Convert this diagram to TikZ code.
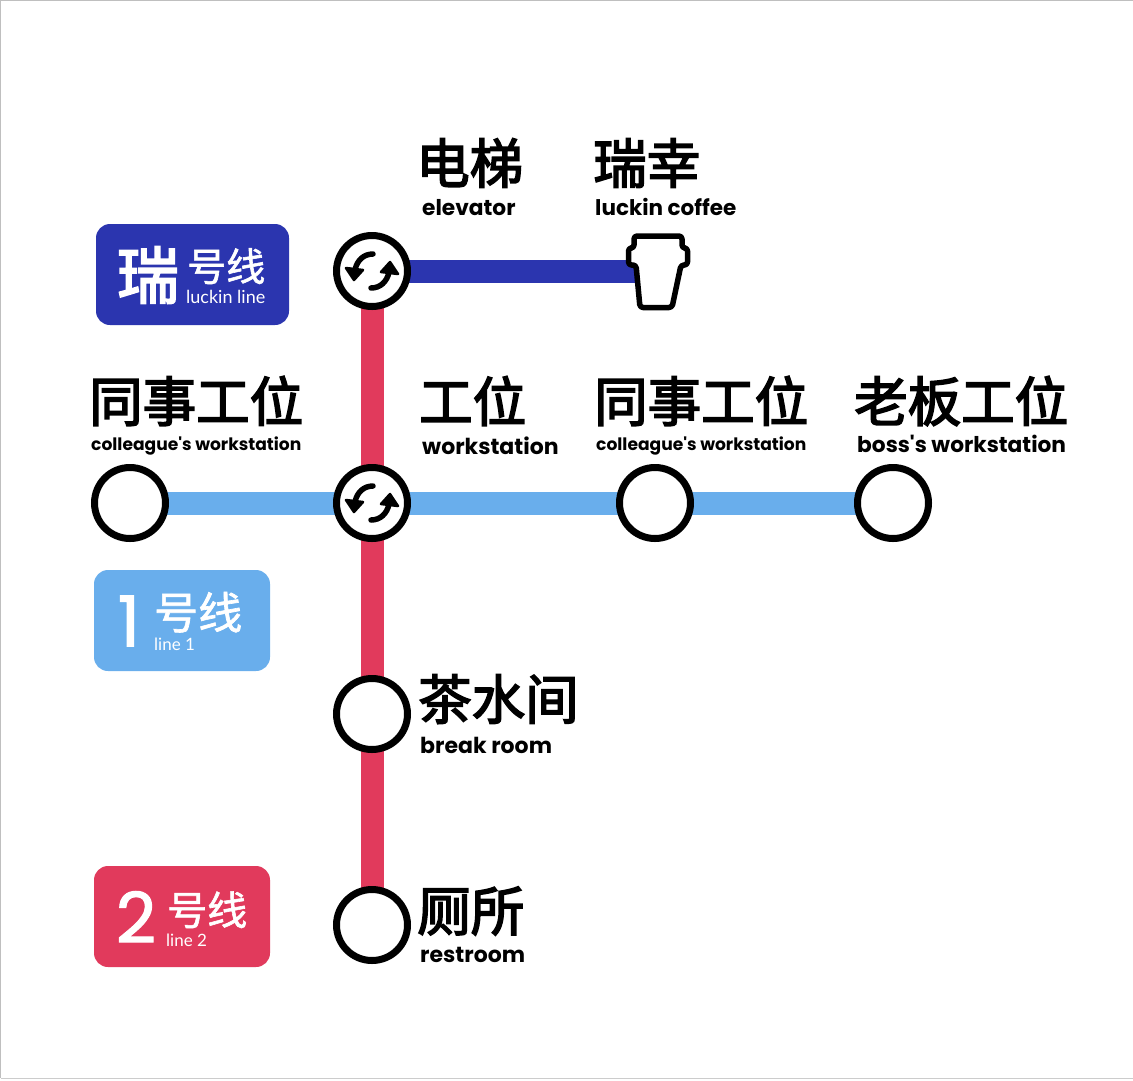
\documentclass[tikz,border=0pt]{standalone}
\usepackage{fontspec}
\usetikzlibrary{backgrounds}
\setmainfont{Poppins}
\newfontfamily\cjkfont[FakeBold=3]{Noto Sans CJK SC}
\newfontfamily\cjkthin[FakeBold=1.5]{Noto Sans CJK SC}
\newfontfamily\numfont[FakeBold=1.5]{Poppins}
\newfontfamily\thinfont{Lato}
\definecolor{luckinblue}{HTML}{2B35AF}
\definecolor{lineoneblue}{HTML}{69AEEC}
\definecolor{linetwored}{HTML}{E13A5C}
\tikzstyle{station}=[circle,
    line width=7pt,
    minimum size=71pt,
    inner sep=0pt,
    draw=black,
    fill=white]
\tikzstyle{cnlabel}=[anchor=west,inner sep=0pt,font=\fontsize{53.5}{54}\cjkfont]
\tikzstyle{enlabel}=[anchor=base west,inner sep=0pt,font=\fontsize{22}{22}\selectfont\bfseries]
\tikzstyle{ensmall}=[anchor=base west,inner sep=0pt,font=\fontsize{17.1}{18}\selectfont\bfseries]
\tikzstyle{badge}=[rounded corners=14pt,draw=none]
\tikzstyle{badgebig}=[inner sep=0pt,text=white,font=\fontsize{62}{62}\cjkfont]
\tikzstyle{badgenum}=[inner sep=0pt,text=white,font=\fontsize{70}{70}\numfont]
\tikzstyle{badgecn}=[anchor=base west,inner sep=0pt,text=white,text height=30pt,text depth=0pt,font=\fontsize{39}{39}\cjkthin]
\tikzstyle{badgeen}=[anchor=west,inner sep=0pt,text=white,font=\fontsize{17}{17}\thinfont]
\tikzstyle{track}=[line width=23pt]
\tikzset{swaparrow/.pic={
    \draw [line width=5.5pt,line cap=round] (1,-17) .. controls (-8,-17) and (-15,-11) .. (-17,-1);
    \fill [draw,line width=2.5pt,line join=round] (-26,-3) -- (-9,-1) -- (-18,9) -- cycle;
}}
\begin{document}
\begin{tikzpicture}[x=1pt,y=-1pt]
    \useasboundingbox (0,0) rectangle (1133,1080);
    \draw [gray!50,line width=1pt] (0.5,1078) -- (0.5,0.5) -- (1132.5,0.5);
    \draw [gray!40,line width=1pt] (0.5,1078) -- (1133,1078);

    % stations
    \node (elevator) [station] at (372,271) {};
    \node (desk) [station] at (372,503) {};
    \node (colleaguea) [station] at (130,503) {};
    \node (colleagueb) [station] at (655,503) {};
    \node (boss) [station] at (893,503) {};
    \node (breakroom) [station] at (372,714) {};
    \node (restroom) [station] at (372,925) {};
    \coordinate (cup) at (645,271);

    % lines
    \begin{scope}[on background layer]
        \draw [track,luckinblue] (elevator.center) -- (cup);
        \draw [track,lineoneblue] (colleaguea.center) -- (desk.center);
        \draw [track,lineoneblue] (desk.center) -- (colleagueb.center);
        \draw [track,lineoneblue] (colleagueb.center) -- (boss.center);
        \draw [track,linetwored] (elevator.center) -- (desk.center);
        \draw [track,linetwored] (desk.center) -- (breakroom.center);
        \draw [track,linetwored] (breakroom.center) -- (restroom.center);
    \end{scope}

    % transfer marks
    \foreach \name in {elevator,desk} {
        \pic at (\name) {swaparrow};
        \pic [rotate=180] at (\name) {swaparrow};
    }

    % coffee cup
    \draw [line width=5.5pt,line join=round,rounded corners=3pt,fill=white]
        (636,265) -- (640,307.5) -- (672,307.5) -- (681,265)
        -- (687.5,265) -- (687.5,248) -- (682,248) -- (682,236) -- (634,236) -- (634,248)
        -- (628.5,248) -- (628.5,265) -- cycle;

    % station labels
    \node (elevatorcn) [cnlabel] at (416,163) {电梯};
    \node (elevatoren) [enlabel,font=\fontsize{21.7}{22}\selectfont\bfseries] at (422,215) {elevator};
    \node (coffeecn) [cnlabel] at (593,163) {瑞幸};
    \node (coffeeen) [enlabel,font=\fontsize{21.5}{22}\selectfont\bfseries] at (595,215) {luckin coffee};
    \node (colleagueacn) [cnlabel] at (89,401) {同事工位};
    \node (colleagueaen) [ensmall] at (91,450) {colleague\textquotesingle s workstation};
    \node (deskcn) [cnlabel] at (419,401) {工位};
    \node (desken) [enlabel] at (422,454) {workstation};
    \node (colleaguebcn) [cnlabel] at (594,401) {同事工位};
    \node (colleagueben) [ensmall] at (596,450) {colleague\textquotesingle s workstation};
    \node (bosscn) [cnlabel] at (854,401) {老板工位};
    \node (bossen) [enlabel,font=\fontsize{21.7}{22}\selectfont\bfseries] at (857,452) {boss\textquotesingle s workstation};
    \node (breakcn) [cnlabel] at (418,699) {茶水间};
    \node (breaken) [enlabel] at (420,753) {break room};
    \node (restcn) [cnlabel] at (417,911) {厕所};
    \node (resten) [enlabel] at (420,962) {restroom};

    % line badges
    \fill [badge,luckinblue] (96,224) rectangle (289,325);
    \node (luckinbig) [badgebig] at (148,275) {瑞};
    \node (luckincn) [badgecn] at (187,281) {号线};
    \node (luckinen) [badgeen,font=\fontsize{18}{18}\thinfont] at (186,297) {luckin line};
    \fill [badge,lineoneblue] (94,570) rectangle (270,671);
    \node (onebig) [badgenum] at (129,621) {1};
    \node (onecn) [badgecn,font=\fontsize{44}{44}\cjkthin] at (154,629) {号线};
    \node (oneen) [badgeen] at (154,644) {line 1};
    \fill [badge,linetwored] (94,866) rectangle (270,967);
    \node (twobig) [badgenum] at (136,917) {2};
    \node (twocn) [badgecn,font=\fontsize{40}{40}\cjkthin] at (167,925) {号线};
    \node (twoen) [badgeen] at (166,940) {line 2};
\end{tikzpicture}
\end{document}
